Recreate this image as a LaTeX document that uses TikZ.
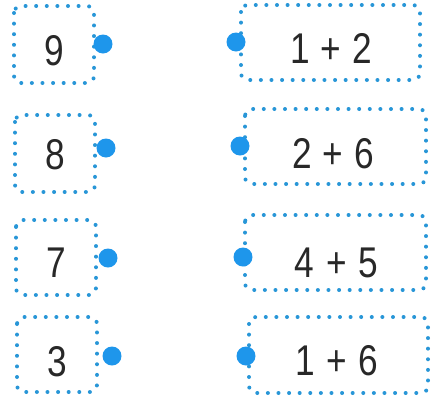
\documentclass[tikz,border=0pt]{standalone}
\usepackage{fontspec}
\setmainfont{Liberation Sans}[FakeStretch=0.82]
\definecolor{dotblue}{RGB}{40,150,215}
\definecolor{ballblue}{RGB}{30,150,235}
\definecolor{txt}{RGB}{40,40,40}
\tikzset{
  box/.style={draw=dotblue, line width=4pt, line cap=round, dash pattern=on 0pt off 10.6pt, rounded corners=7pt},
  ball/.style={circle, fill=ballblue, inner sep=0pt, minimum size=19pt},
  lbl/.style={font=\fontsize{43}{43}\selectfont, text=txt, inner sep=0pt, anchor=base}
}
\begin{document}
\begin{tikzpicture}[x=1pt,y=-1pt]
\useasboundingbox (0,0) rectangle (432,400);
% left boxes
\draw[box] (14,6) rectangle (94,83);
\node[lbl] (l1) at (54,65) {9};
\node[ball] (bl1) at (103,44) {};
\draw[box] (15,115) rectangle (95,192);
\node[lbl] (l2) at (55,169) {8};
\node[ball] (bl2) at (106,148) {};
\draw[box] (16,220) rectangle (96,295);
\node[lbl] (l3) at (56,277) {7};
\node[ball] (bl3) at (108,258) {};
\draw[box] (17,317) rectangle (97,392);
\node[lbl] (l4) at (57,376) {3};
\node[ball] (bl4) at (112,356) {};
% right boxes
\draw[box] (241,5) rectangle (420,80);
\node[lbl] (r1a) at (300,63) {1};
\node[lbl] (r1b) at (331,63) {+};
\node[lbl] (r1c) at (362,63) {2};
\node[ball] (br1) at (236,42) {};
\draw[box] (245,109) rectangle (426,184);
\node[lbl] (r2a) at (302,168) {2};
\node[lbl] (r2b) at (333,168) {+};
\node[lbl] (r2c) at (364,168) {6};
\node[ball] (br2) at (240,146) {};
\draw[box] (245,215) rectangle (426,290);
\node[lbl] (r3a) at (304,277) {4};
\node[lbl] (r3b) at (337,277) {+};
\node[lbl] (r3c) at (368,277) {5};
\node[ball] (br3) at (243,257) {};
\draw[box] (249,317) rectangle (428,393);
\node[lbl] (r4a) at (305,375) {1};
\node[lbl] (r4b) at (337,375) {+};
\node[lbl] (r4c) at (368,375) {6};
\node[ball] (br4) at (246,356) {};
\end{tikzpicture}
\end{document}
